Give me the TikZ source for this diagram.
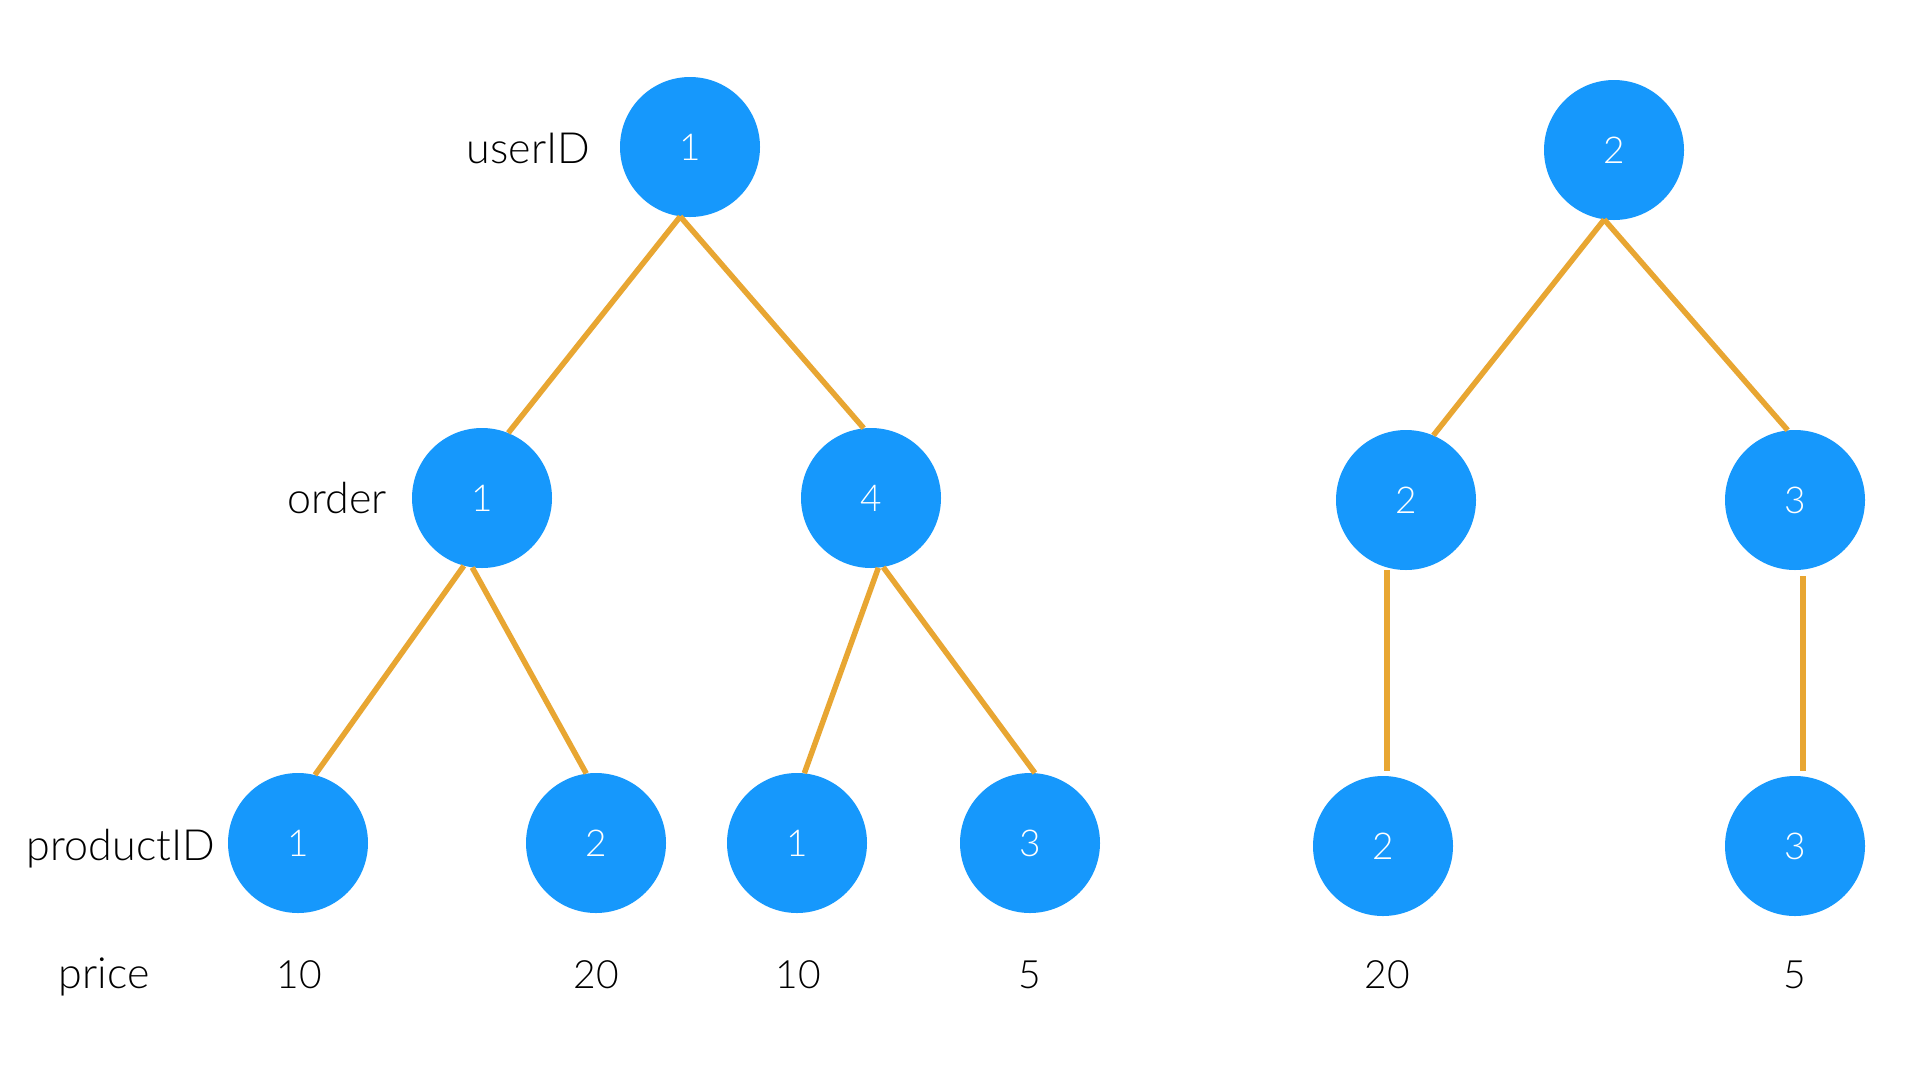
\documentclass[tikz,border=0pt]{standalone}
\usepackage{fontspec}
\setmainfont{Lato Light}
\usetikzlibrary{calc}
\definecolor{nodeblue}{RGB}{22,152,252}
\definecolor{edgeorange}{RGB}{232,166,50}
\begin{document}
\begin{tikzpicture}[x=1pt,y=-1pt,
  tnode/.style={circle,fill=nodeblue,draw=none,minimum size=140pt,inner sep=0pt,
    text=white,font=\fontsize{37}{44}\selectfont},
  lbl/.style={inner sep=0pt,font=\fontsize{43}{50}\selectfont,text=black},
  num/.style={inner sep=0pt,font=\fontsize{39}{47}\selectfont,text=black},
  edge/.style={draw=edgeorange,line width=5.5pt}]
\useasboundingbox (0,0) rectangle (1920,1080);
\fill[white] (0,0) rectangle (1920,1080);

% left tree: user 1
\node[tnode] (r1) at (690,147) {1};
\node[tnode] (o1) at (482,498) {1};
\node[tnode] (o4) at (871,498) {4};
\node[tnode] (p1) at (298,843) {1};
\node[tnode] (p2) at (596,843) {2};
\node[tnode] (p3) at (797,843) {1};
\node[tnode] (p4) at (1030,843) {3};

% right tree: user 2
\node[tnode] (r2) at (1614,150) {2};
\node[tnode] (o2) at (1406,500) {2};
\node[tnode] (o3) at (1795,500) {3};
\node[tnode] (p5) at (1383,846) {2};
\node[tnode] (p6) at (1795,846) {3};

% level labels
\node[lbl,anchor=base east] (luser) at (590,163) {userID};
\node[lbl,anchor=base] (lorder) at (337,513) {order};
\node[lbl,anchor=base east] (lprod) at (215,860) {productID};
\node[lbl,anchor=base] (lprice) at (104,988) {price};

% prices
\node[num,anchor=base] (c1) at (299,988) {10};
\node[num,anchor=base] (c2) at (596,988) {20};
\node[num,anchor=base] (c3) at (798,988) {10};
\node[num,anchor=base] (c4) at (1030,988) {5};
\node[num,anchor=base] (c5) at (1387,988) {20};
\node[num,anchor=base] (c6) at (1795,988) {5};

% connectors
\draw[edge] (r1.-98) -- (o1.68);
\draw[edge] (r1.-98) -- (o4.96);
\draw[edge] (o1.-105) -- (p1.76);
\draw[edge] (o1.-98) -- (p2.98);
\draw[edge] (o4.-84) -- (p3.84);
\draw[edge] (o4.-80) -- (p4.86);
\draw[edge] (r2.-98) -- (o2.67);
\draw[edge] (r2.-98) -- (o3.96);
\draw[edge] ($(o2.south)+(-19,0)$) -- ($(p5.north)+(4,-5)$);
\draw[edge] ($(o3.south)+(8,6)$) -- ($(p6.north)+(8,-5)$);
\end{tikzpicture}
\end{document}
